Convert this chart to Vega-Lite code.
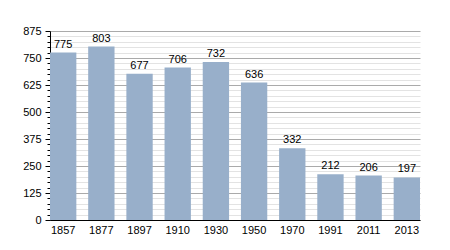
{
  "$schema": "https://vega.github.io/schema/vega-lite/v6.json",
  "autosize": {"type": "none"},
  "width": 370,
  "height": 189,
  "padding": {"left": 50, "top": 31, "right": 30, "bottom": 30},
  "background": "white",
  "config": {
    "view": {"stroke": null},
    "font": "Liberation Sans"
  },
  "data": {"values": [
    {"year": "1857", "pop": 775},
    {"year": "1877", "pop": 803},
    {"year": "1897", "pop": 677},
    {"year": "1910", "pop": 706},
    {"year": "1930", "pop": 732},
    {"year": "1950", "pop": 636},
    {"year": "1970", "pop": 332},
    {"year": "1991", "pop": 212},
    {"year": "2011", "pop": 206},
    {"year": "2013", "pop": 197}
  ]},
  "encoding": {
    "x": {"field": "year", "type": "nominal", "sort": null,
      "scale": {"paddingInner": 0.31, "paddingOuter": 0},
      "axis": {"title": null, "labelAngle": 0, "ticks": false, "domainColor": "#000", "labelColor": "#000", "labelFontSize": 11, "labelPadding": 4}},
    "y": {"field": "pop", "type": "quantitative",
      "scale": {"domain": [0, 875], "nice": false},
      "axis": {"title": null,
        "values": [0,25,50,75,100,125,150,175,200,225,250,275,300,325,350,375,400,425,450,475,500,525,550,575,600,625,650,675,700,725,750,775,800,825,850,875],
        "labelExpr": "datum.value % 125 === 0 ? datum.label : ''",
        "labelFontSize": 11, "labelColor": "#000", "labelPadding": 4,
        "domainColor": "#000", "tickColor": "#000",
        "tickSize": {"condition": {"test": "datum.value % 125 === 0", "value": 5}, "value": 3},
        "gridColor": {"condition": {"test": "datum.value % 125 === 0", "value": "#aaaaaa"}, "value": "#e3e3e3"},
        "labelOverlap": false}}
  },
  "layer": [
    {"mark": {"type": "bar", "color": "#98afca"}},
    {"mark": {"type": "text", "dy": -8, "fontSize": 11, "color": "#000"},
     "encoding": {"text": {"field": "pop", "type": "quantitative"}}}
  ]
}
